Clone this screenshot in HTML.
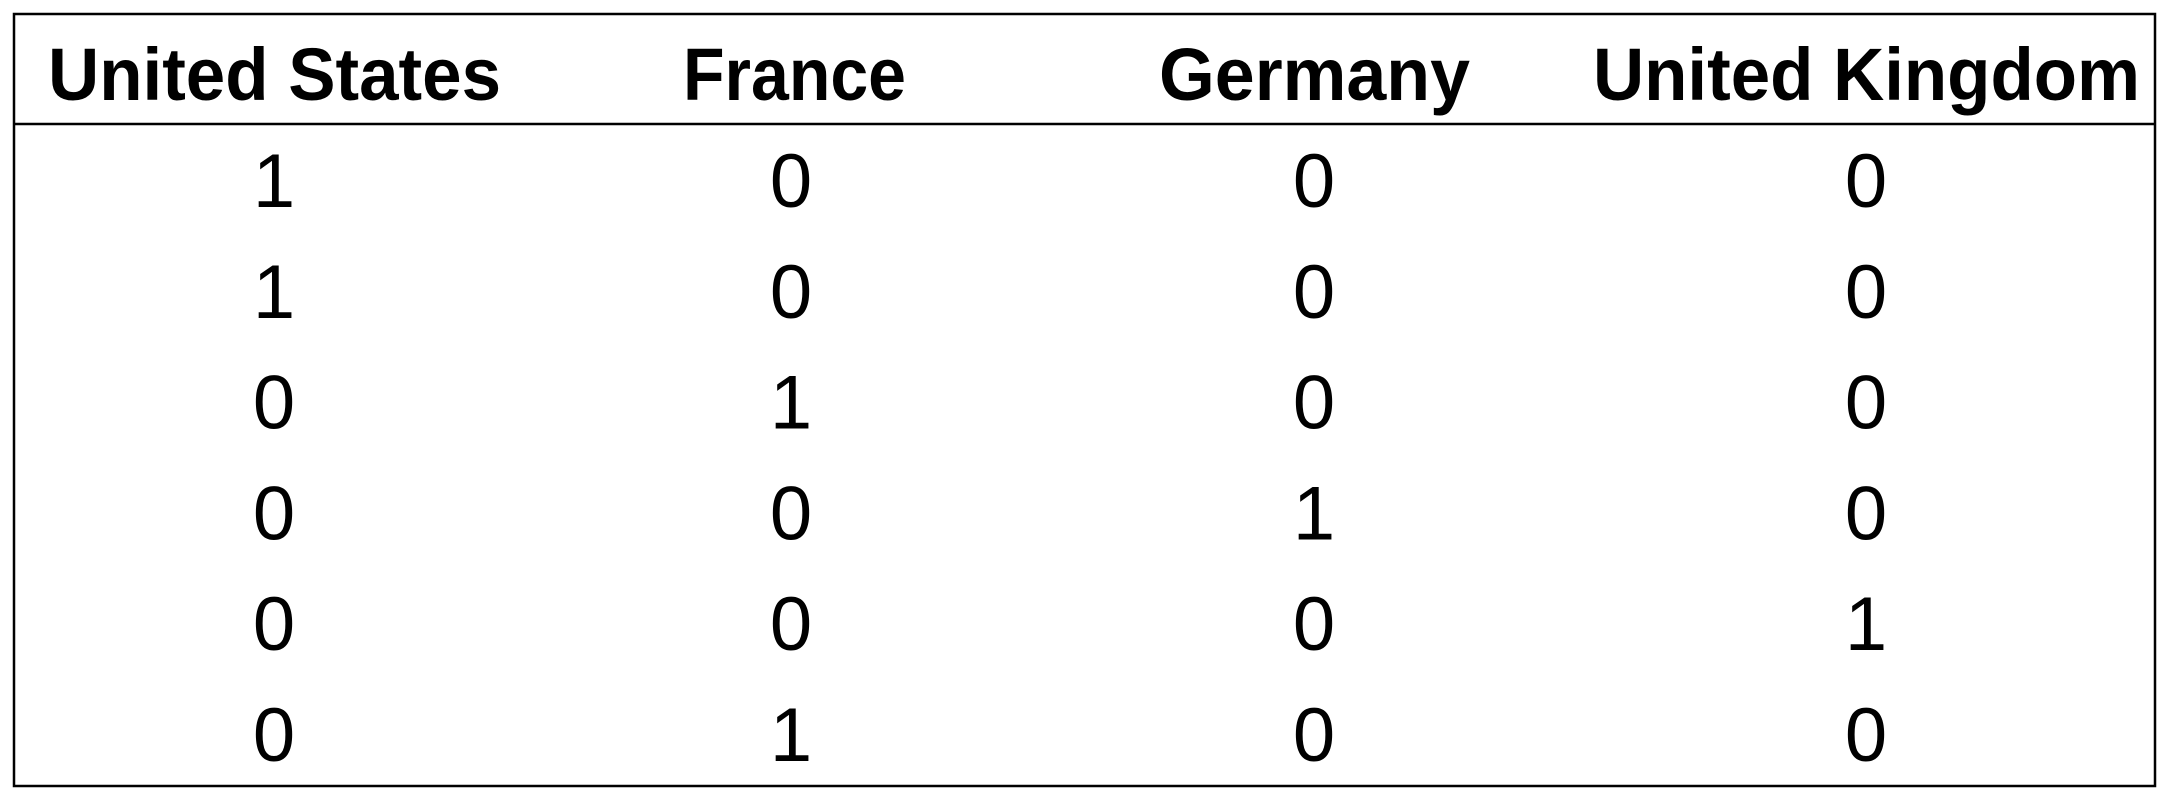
<!DOCTYPE html>
<html><head><meta charset="utf-8"><style>
html,body{margin:0;padding:0;background:#fff;width:2168px;height:800px;overflow:hidden}
svg{display:block}
text{font-family:"Liberation Sans",sans-serif;fill:#000}
</style></head><body>
<svg id="tbl" width="2168" height="800" viewBox="0 0 2168 800">
<rect x="14" y="14" width="2141" height="772" fill="none" stroke="#000" stroke-width="2.5"/>
<line x1="14" y1="124" x2="2155" y2="124" stroke="#000" stroke-width="2.5"/>
<g id="hdr"></g><g id="cells"></g>
</svg>
<script>
const columns = ["United States","France","Germany","United Kingdom"];
const colUS = [1,1,0,0,0,0];
const colFR = [0,0,1,0,0,1];
const colDE = [0,0,0,1,0,0];
const colUK = [0,0,0,0,1,0];
const series = [colUS,colFR,colDE,colUK];
const ns="http://www.w3.org/2000/svg";
const hdrX=[48,683,1159,1593], hdrW=[453,223,311,547];
const cx=[274,791,1314,1866];
const rowY=i=>207+i*110.8;
const hdr=document.getElementById('hdr'), cells=document.getElementById('cells');
columns.forEach((c,j)=>{
  const t=document.createElementNS(ns,'text');
  
  
  t.setAttribute('x',hdrX[j]);t.setAttribute('y',100);
  t.setAttribute('font-size','74');t.setAttribute('font-weight','bold');
  t.setAttribute('textLength',hdrW[j]);t.setAttribute('lengthAdjust','spacingAndGlyphs');
  t.textContent=c;hdr.appendChild(t);
});
series.forEach((col,j)=>col.forEach((v,i)=>{
  const t=document.createElementNS(ns,'text');
  
  
  t.setAttribute('x',cx[j]);t.setAttribute('y',rowY(i));
  t.setAttribute('font-size','76');t.setAttribute('text-anchor','middle');
  t.textContent=String(v);cells.appendChild(t);
}));
</script>
</body></html>
